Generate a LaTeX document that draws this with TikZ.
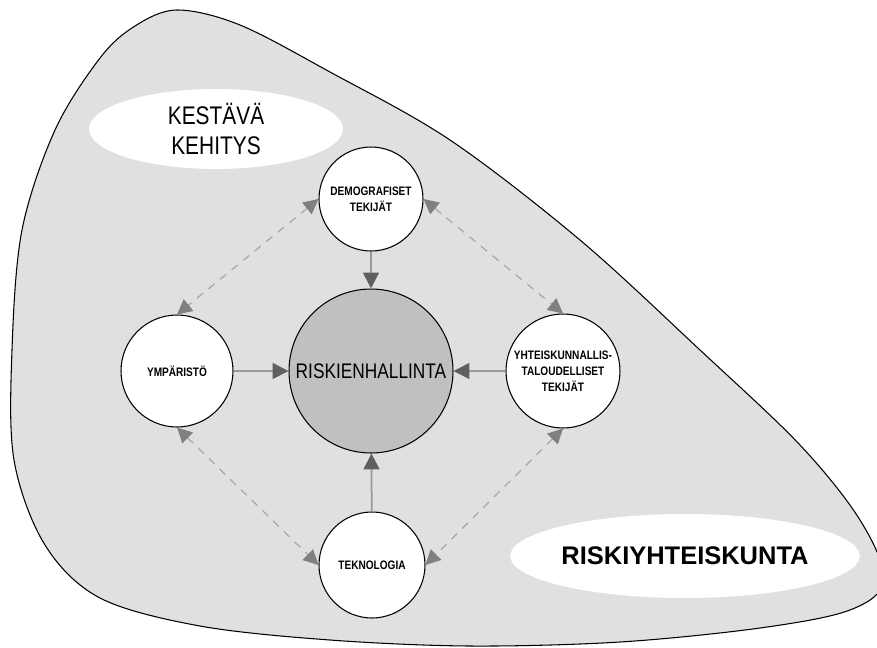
\documentclass[tikz,border=0pt]{standalone}
\usepackage{fontspec}
\setmainfont{Liberation Sans}
\newfontfamily\narrowfont[FakeStretch=0.82]{Liberation Sans}
\usetikzlibrary{arrows.meta,shapes.geometric}
\definecolor{sfondo}{HTML}{E0E0E0}
\definecolor{centrogr}{HTML}{C0C0C0}
\definecolor{lineagr}{HTML}{999999}
\definecolor{puntagr}{HTML}{606060}
\definecolor{trattgr}{HTML}{A8A8A8}
\definecolor{puntatr}{HTML}{808080}
\tikzset{
  fattore/.style={circle, draw, line width=0.6pt, fill=white, inner sep=0pt, align=center,
    font=\narrowfont\bfseries\fontsize{7}{9.2}\selectfont},
  centro/.style={circle, draw, line width=0.6pt, fill=centrogr, inner sep=0pt, minimum size=3.28cm,
    font=\narrowfont\fontsize{12}{14}\selectfont},
  etichetta/.style={ellipse, fill=white, inner sep=0pt, align=center},
  freccia/.style={draw=lineagr, line width=1pt, -{Triangle[length=9pt,width=9pt,color=puntagr]}},
  tratteggio/.style={draw=trattgr, line width=0.7pt, dash pattern=on 4.5pt off 4pt,
    {Triangle[length=8.5pt,width=8.5pt,color=puntatr]}-{Triangle[length=8.5pt,width=8.5pt,color=puntatr]}}
}
\begin{document}
\begin{tikzpicture}[x=0.02cm,y=-0.02cm]
  \useasboundingbox (0,0) rectangle (877,647);
  \clip (0,0) rectangle (877,647);
  % disegno sfondo
  \draw[fill=sfondo, line width=0.6pt] plot[smooth cycle, tension=0.55] coordinates {
    (177,10) (240,25) (330,72) (450,140) (580,240) (700,350) (800,445) (860,520)
    (884,580) (850,610) (760,628) (620,642) (470,646) (330,640) (200,626) (100,598)
    (45,545) (14,460) (12,350) (22,230) (55,130) (100,58) (135,26)};

  % ellissi con scritte
  \node[etichetta, minimum width=5.08cm, minimum height=1.6cm,
    font=\narrowfont\fontsize{14.5}{17}\selectfont] (kestava) at (216,129) {KESTÄVÄ\\KEHITYS};
  \node[etichetta, minimum width=6.2cm, minimum height=1.68cm,
    font=\bfseries\fontsize{14.5}{17}\selectfont] (riskiyht) at (685,556) {RISKIYHTEISKUNTA};

  % cerchi
  \node[centro] (riski) at (371,371) {RISKIENHALLINTA};
  \node[fattore, minimum size=2.08cm] (demo) at (371,199) {DEMOGRAFISET\\TEKIJÄT};
  \node[fattore, minimum size=2.24cm] (ymp) at (177,371) {YMPÄRISTÖ};
  \node[fattore, minimum size=2.28cm] (yht) at (563,371) {YHTEISKUNNALLIS-\\TALOUDELLISET\\TEKIJÄT};
  \node[fattore, minimum size=2.12cm] (tek) at (372,565) {TEKNOLOGIA};

  % frecce piene
  \draw[freccia] (demo) -- (riski);
  \draw[freccia] (ymp) -- (riski);
  \draw[freccia] (yht) -- (riski);
  \draw[freccia] (tek) -- (riski);

  % frecce tratteggiate
  \draw[tratteggio] (demo.west) -- (ymp.north);
  \draw[tratteggio] (demo.east) -- (yht.north);
  \draw[tratteggio] (ymp.south) -- (tek.west);
  \draw[tratteggio] (yht.south) -- (tek.east);
\end{tikzpicture}
\end{document}
